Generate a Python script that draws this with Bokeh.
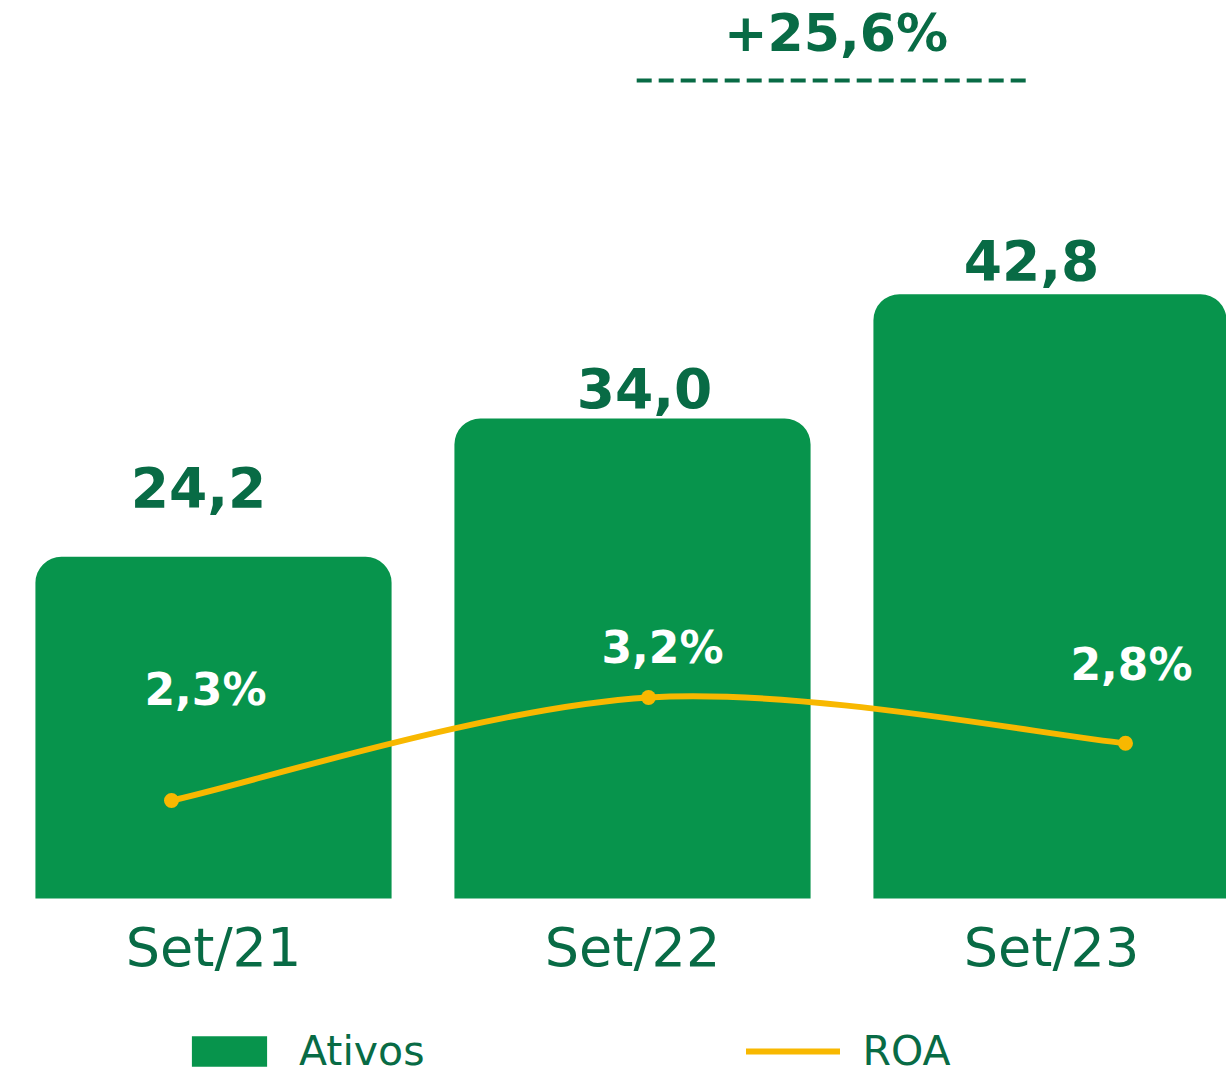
from bokeh.plotting import figure
from bokeh.models import (Range1d, ColumnDataSource, FixedTicker, LinearAxis,
                          Legend, LegendItem)
from bokeh.core.properties import value
from bokeh.embed import file_html
from bokeh.resources import INLINE

# ---------------- data ----------------
categories = ["Set/21", "Set/22", "Set/23"]
ativos = [24.2, 34.0, 42.8]
ativos_labels = ["24,2", "34,0", "42,8"]
roa = [2.3, 3.2, 2.8]
roa_labels = ["2,3%", "3,2%", "2,8%"]
growth_label = "+25,6%"
growth_pair = [1, 2]   # compares Set/22 with Set/23

# ---------------- style ----------------
GREEN = "#07944C"
DARK = "#086B45"
YELLOW = "#F8B800"
FONT = "DejaVu Sans"
W, H = 1226, 1075

bar_label_dx = [-15, 12, -20]
bar_label_dy = [-70, -30, -34]
roa_label_dx = [34, 14, 6]
roa_label_dy = [-111, -50, -79]
ANNOT_Y = 57.93
ANNOT_TEXT_UP = 48 / 14.12

p = figure(width=W, height=H, output_backend="svg", toolbar_location=None,
           x_range=Range1d(-0.50835, 2.41766), y_range=Range1d(-12.535, 63.598),
           x_axis_location=None, y_axis_location=None, min_border=0,
           outline_line_color=None, background_fill_color="white",
           border_fill_color="white")
p.extra_x_ranges = {"roa": Range1d(-0.35849, 2.21174)}
p.extra_y_ranges = {"roa": Range1d(-0.1031, 9.2904)}
p.grid.visible = False

xs = list(range(len(categories)))

# bars
bar_src = ColumnDataSource(dict(x=xs, top=ativos, label=ativos_labels,
                                dx=bar_label_dx, dy=bar_label_dy))
bars = p.vbar(x="x", top="top", bottom=0, width=0.85, source=bar_src,
              fill_color=GREEN, line_color=None, border_radius=(26, 26, 0, 0))
p.text(x="x", y="top", text="label", source=bar_src, x_offset="dx", y_offset="dy",
       text_align="center", text_baseline="alphabetic", text_color=DARK,
       text_font=value(FONT), text_font_style="bold", text_font_size="55px")

# category axis
ax = LinearAxis(ticker=FixedTicker(ticks=xs),
                major_label_overrides={i: c for i, c in zip(xs, categories)},
                fixed_location=0, axis_line_color=None,
                major_tick_line_color=None, minor_tick_line_color=None,
                major_label_text_font=FONT, major_label_text_font_size="54px",
                major_label_text_color=DARK, major_label_standoff=11)
p.add_layout(ax, "below")

# smoothed ROA line (cubic Bezier segments through the data points)
n = len(roa)
seg = dict(x0=[], y0=[], x1=[], y1=[], cx0=[], cy0=[], cx1=[], cy1=[])
for i in range(n - 1):
    a, b = max(i - 1, 0), min(i + 2, n - 1)
    seg["x0"].append(xs[i]); seg["y0"].append(roa[i])
    seg["x1"].append(xs[i + 1]); seg["y1"].append(roa[i + 1])
    seg["cx0"].append(xs[i] + (xs[i + 1] - xs[a]) / 6)
    seg["cy0"].append(roa[i] + (roa[i + 1] - roa[a]) / 6)
    seg["cx1"].append(xs[i + 1] - (xs[b] - xs[i]) / 6)
    seg["cy1"].append(roa[i + 1] - (roa[b] - roa[i]) / 6)
curve = p.bezier(source=ColumnDataSource(seg), x0="x0", y0="y0", x1="x1", y1="y1",
                 cx0="cx0", cy0="cy0", cx1="cx1", cy1="cy1",
                 x_range_name="roa", y_range_name="roa",
                 line_color=YELLOW, line_width=6, line_cap="round")
roa_src = ColumnDataSource(dict(x=xs, y=roa, label=roa_labels,
                                dx=roa_label_dx, dy=roa_label_dy))
p.scatter(x="x", y="y", source=roa_src, size=15, fill_color=YELLOW,
          line_color=None, x_range_name="roa", y_range_name="roa")
p.text(x="x", y="y", text="label", source=roa_src, x_offset="dx", y_offset="dy",
       x_range_name="roa", y_range_name="roa",
       text_align="center", text_baseline="alphabetic", text_color="white",
       text_font=value(FONT), text_font_style="bold", text_font_size="44px")

# growth annotation
p.line(x=[growth_pair[0] + 0.01, growth_pair[1] - 0.048], y=[ANNOT_Y, ANNOT_Y],
       line_color=DARK, line_width=4, line_dash="15 7")
p.text(x=[(growth_pair[0] + growth_pair[1]) / 2], y=[ANNOT_Y + ANNOT_TEXT_UP],
       text=[growth_label], x_offset=-6, text_align="center",
       text_baseline="alphabetic", text_color=DARK, text_font=value(FONT),
       text_font_style="bold", text_font_size="52px")

legend = Legend(items=[LegendItem(label="Ativos", renderers=[bars]),
                       LegendItem(label="ROA", renderers=[curve])],
                orientation="horizontal", location=(182, 0),
                glyph_width=94, glyph_height=38, label_standoff=23, spacing=321,
                padding=0, margin=0, border_line_alpha=0, background_fill_alpha=0,
                label_text_font=FONT, label_text_font_size="41px",
                label_text_color=DARK)
p.add_layout(legend)

open("out.html", "w").write(file_html(p, INLINE))
